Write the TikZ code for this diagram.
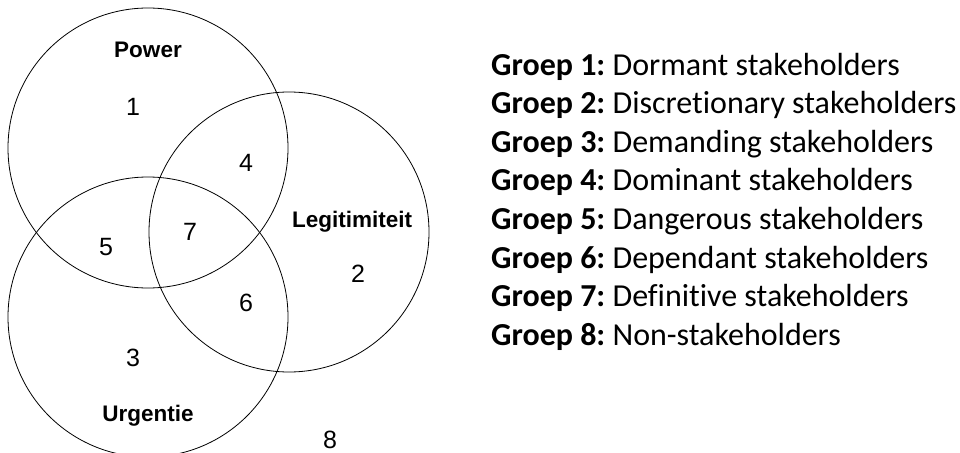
\documentclass[tikz,border=0pt]{standalone}
\usepackage{fontspec}
\setmainfont{Liberation Sans}
\newfontfamily\legendfont[Ligatures=NoCommon]{Carlito}
\frenchspacing
\begin{document}
\begin{tikzpicture}[x=1pt,y=-1pt,
  venn/.style={draw=black,line width=0.8pt,circle,minimum size=280pt,inner sep=0pt},
  setlabel/.style={anchor=base,inner sep=0pt,font=\fontsize{22.5}{26}\selectfont\bfseries},
  region/.style={inner sep=0pt,font=\fontsize{25}{29}\selectfont},
  legend/.style={anchor=base west,inner sep=0pt,font=\legendfont\fontsize{32}{36}\selectfont}]
\useasboundingbox (0,0) rectangle (960,452);
% the three sets
\node[venn] (power) at (148,148) {};
\node[venn] (legit) at (289,232) {};
\node[venn] (urg)   at (148,317) {};
% set names
\node[setlabel] (lpower) at (148,57)  {Power};
\node[setlabel] (llegit) at (352,227) {Legitimiteit};
\node[setlabel] (lurg)   at (148,421) {Urgentie};
% region numbers
\node[region] (r1) at (133,107) {1};
\node[region] (r2) at (358,274) {2};
\node[region] (r3) at (133,358) {3};
\node[region] (r4) at (246,163) {4};
\node[region] (r5) at (106,247) {5};
\node[region] (r6) at (246,303) {6};
\node[region] (r7) at (190,232) {7};
\node[region] (r8) at (330,440) {8};
% legend
\node[legend] (g1) at (491,75)    {\textbf{Groep 1:} Dormant stakeholders};
\node[legend] (g2) at (491,113.6) {\textbf{Groep 2:} Discretionary stakeholders};
\node[legend] (g3) at (491,152.2) {\textbf{Groep 3:} Demanding stakeholders};
\node[legend] (g4) at (491,190.8) {\textbf{Groep 4:} Dominant stakeholders};
\node[legend] (g5) at (491,229.4) {\textbf{Groep 5:} Dangerous stakeholders};
\node[legend] (g6) at (491,268.0) {\textbf{Groep 6:} Dependant stakeholders};
\node[legend] (g7) at (491,306.6) {\textbf{Groep 7:} Definitive stakeholders};
\node[legend] (g8) at (491,345.2) {\textbf{Groep 8:} Non-stakeholders};
\end{tikzpicture}
\end{document}
